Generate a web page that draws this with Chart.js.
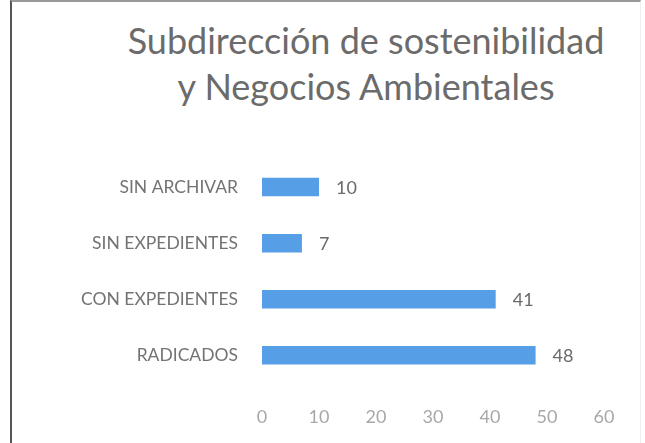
<!DOCTYPE html>
<html>
<head>
<meta charset="utf-8">
<script src="https://cdn.jsdelivr.net/npm/chart.js@4"></script>
<style>
  html, body { margin: 0; padding: 0; background: #fff; }
  #wrap { position: relative; width: 645px; height: 443px; overflow: hidden; }
  #frame { position: absolute; left: 10px; top: 0; width: 631px; height: 443px;
           border-left: 2px solid #555; border-top: 2px solid #999; border-right: 1px solid #eee; box-sizing: border-box; }
  #title { position: absolute; left: 0; width: 732px; top: 17px; text-align: center;
           font-family: Lato, 'Open Sans', sans-serif; font-size: 36px; line-height: 46px; color: #6b6b6b; }
  canvas { position: absolute; left: 0; top: 0; }
</style>
</head>
<body>
<div id="wrap">
  <div id="frame"></div>
  <div id="title">Subdirección de sostenibilidad<br>y Negocios Ambientales</div>
  <canvas id="chart" width="645" height="443"></canvas>
</div>
<script>
const categories = ['SIN ARCHIVAR', 'SIN EXPEDIENTES', 'CON EXPEDIENTES', 'RADICADOS'];
const values = [10, 7, 41, 48];
const xTicks = [0, 10, 20, 30, 40, 50, 60];

// value labels at the end of each bar
const valueLabels = {
  id: 'valueLabels',
  afterDatasetsDraw(chart) {
    const ctx = chart.ctx;
    const meta = chart.getDatasetMeta(0);
    ctx.save();
    ctx.font = '18px Lato, "Open Sans", sans-serif';
    ctx.fillStyle = '#6b6b6b';
    ctx.textBaseline = 'middle';
    meta.data.forEach((bar, i) => {
      ctx.fillText(String(values[i]), bar.x + 17, bar.y + 1);
    });
    ctx.restore();
  }
};

new Chart(document.getElementById('chart'), {
  type: 'bar',
  data: {
    labels: categories,
    datasets: [{
      data: values,
      backgroundColor: '#569ee6',
      barPercentage: 0.33,
      categoryPercentage: 1.0
    }]
  },
  options: {
    indexAxis: 'y',
    responsive: false,
    animation: false,
    layout: { padding: { top: 159, right: 41, bottom: -8, left: 0 } },
    plugins: { legend: { display: false }, tooltip: { enabled: false } },
    scales: {
      x: {
        min: 0, max: 60,
        afterBuildTicks(scale) { scale.ticks = xTicks.map(v => ({ value: v })); },
        grid: { display: false, drawTicks: false },
        border: { display: false },
        ticks: { color: '#a8a8a8', padding: 23, font: { family: 'Lato, "Open Sans", sans-serif', size: 18 } }
      },
      y: {
        afterFit(scale) { scale.width = 262; },
        grid: { display: false, drawTicks: false },
        border: { display: false },
        ticks: { color: '#737373', padding: 24, font: { family: 'Lato, "Open Sans", sans-serif', size: 17.5 } }
      }
    }
  },
  plugins: [valueLabels]
});
</script>
</body>
</html>
